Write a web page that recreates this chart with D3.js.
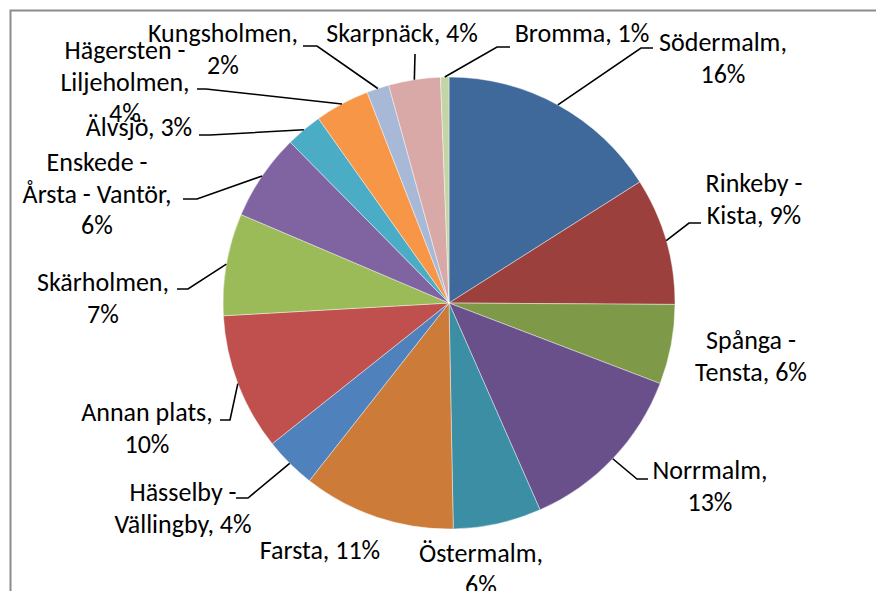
<!DOCTYPE html>
<html>
<head>
<meta charset="utf-8">
<script src="https://cdn.jsdelivr.net/npm/d3@7"></script>
<style>
    body { margin: 0; background: #fff; }
    text { font-family: Carlito, Calibri, Lato, sans-serif; font-size: 26px; fill: #000; }
</style>
</head>
<body>
<script>
// stadsdelar, medurs från kl 12
const districts = ["Södermalm", "Rinkeby - Kista", "Spånga - Tensta", "Norrmalm", "Östermalm", "Farsta",
    "Hässelby - Vällingby", "Annan plats", "Skärholmen", "Enskede - Årsta - Vantör", "Älvsjö",
    "Hägersten - Liljeholmen", "Kungsholmen", "Skarpnäck", "Bromma"];
const shares = [16.0, 9.1, 5.7, 12.6, 6.3, 10.9, 3.7, 9.8, 7.3, 6.2, 2.6, 3.9, 1.6, 3.7, 0.6];
const colors = ["#40699b", "#9b403d", "#7e9a48", "#69508a", "#3b8ea3", "#cd7b38", "#4f81bd", "#c0504d",
    "#9bbb59", "#8064a2", "#4bacc6", "#f79646", "#a8b9d8", "#d9a9a8", "#c3d5a6"];

// hur etiketten bryts: antal ord per rad
const wraps = [[1, 1], [2, 2], [2, 2], [1, 1], [1, 1], [2], [2, 2], [2, 1], [1, 1], [2, 3, 1], [2], [2, 1, 1], [1, 1], [2], [2]];

// etikettplacering (mitt x, första radens mitt y), knäpunkt och slut på hänvisningslinje
const labelLayout = [
    { x: 723, y: 42, elbow: [641, 48], end: [653, 48] },
    { x: 754, y: 183, elbow: [689, 223], end: [701, 223] },
    { x: 751, y: 340 },
    { x: 710, y: 470, elbow: [637, 479], end: [648, 479] },
    { x: 481, y: 553 },
    { x: 320, y: 550 },
    { x: 183, y: 492, elbow: [248, 498], end: [236, 498] },
    { x: 147, y: 412, elbow: [230, 420], end: [220, 420] },
    { x: 103, y: 282, elbow: [188, 289], end: [177, 289] },
    { x: 97, y: 162, elbow: [197, 199], end: [183, 199] },
    { x: 139, y: 127, elbow: [210, 135], end: [199, 135] },
    { x: 125, y: 50, elbow: [206, 89], end: [197, 89] },
    { x: 223, y: 33, elbow: [317, 46], end: [303, 46] },
    { x: 402, y: 33, elbow: [415, 54], end: [415, 54] },
    { x: 582, y: 33, elbow: [497, 47], end: [510, 47] }
];

const width = 876, height = 591;
const center = { x: 449, y: 303 };
const radius = 226;
const lineHeight = 31.5;

const svg = d3.select("body").append("svg").attr("width", width).attr("height", height);

// ram (utsnitt av diagramytan)
svg.append("path")
    .attr("d", "M10.5," + height + "V10.5H" + width)
    .attr("fill", "none")
    .attr("stroke", "#8c8c8c")
    .attr("stroke-width", 2);

const total = d3.sum(shares);
const fmt = d3.format(".0%");

const data = districts.map((name, i) => ({ name: name, value: shares[i], color: colors[i], i: i }));

const pie = d3.pie().sort(null).value(d => d.value);
const arc = d3.arc().innerRadius(0).outerRadius(radius);
const arcs = pie(data);

const g = svg.append("g").attr("transform", "translate(" + center.x + "," + center.y + ")");

g.selectAll(".slice")
    .data(arcs)
    .enter()
    .append("path")
    .attr("class", "slice")
    .attr("d", arc)
    .attr("fill", d => d.data.color)
    .attr("stroke", "#fff")
    .attr("stroke-opacity", 0.6)
    .attr("stroke-width", 0.7);

// hänvisningslinjer
const edgePoint = (d) => {
    const a = (d.startAngle + d.endAngle) / 2;
    return [center.x + radius * Math.sin(a), center.y - radius * Math.cos(a)];
};

svg.selectAll(".leader")
    .data(arcs.filter(d => labelLayout[d.index].elbow))
    .enter()
    .append("polyline")
    .attr("class", "leader")
    .attr("fill", "none")
    .attr("stroke", "#000")
    .attr("stroke-width", 1.6)
    .attr("points", d => {
        const l = labelLayout[d.index];
        return [edgePoint(d), l.elbow, l.end].map(p => p.join(",")).join(" ");
    });

// etiketter
const labels = svg.selectAll(".label")
    .data(arcs)
    .enter()
    .append("text")
    .attr("class", "label")
    .attr("text-anchor", "middle");

labels.each(function (d) {
    const words = (d.data.name + ", " + fmt(d.data.value / total)).split(" ");
    const l = labelLayout[d.index];
    let k = 0;
    wraps[d.index].forEach((n, row) => {
        d3.select(this).append("tspan")
            .attr("x", l.x)
            .attr("y", l.y + 9 + row * lineHeight)
            .text(words.slice(k, k + n).join(" "));
        k += n;
    });
});
</script>
</body>
</html>
